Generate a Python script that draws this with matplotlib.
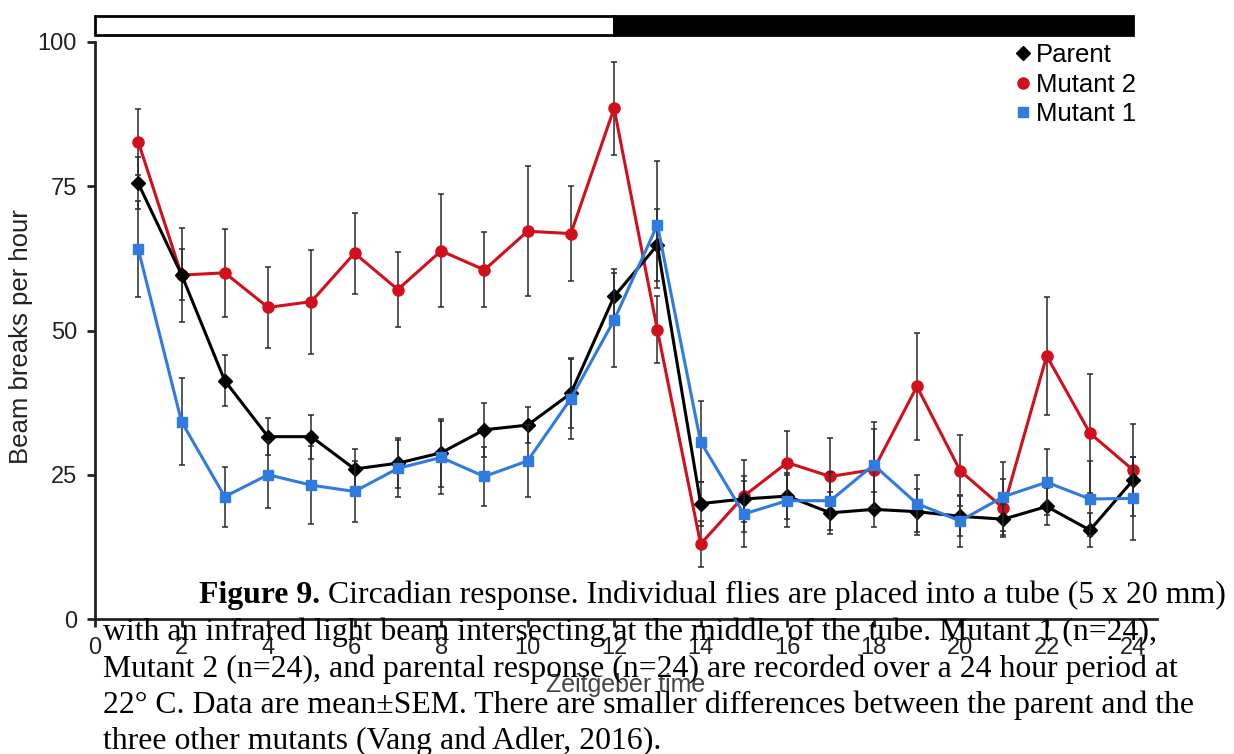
import matplotlib
matplotlib.use("Agg")
import matplotlib.pyplot as plt
from matplotlib.patches import Rectangle
from matplotlib.lines import Line2D

hours = list(range(1, 25))

parent = [75.5, 59.7, 41.3, 31.6, 31.6, 26.0, 27.0, 28.8, 32.8, 33.6, 39.1, 55.9,
          64.8, 20.0, 20.8, 21.3, 18.4, 19.0, 18.6, 17.8, 17.3, 19.5, 15.4, 24.1]
parent_sem = [4.5, 4.5, 4.4, 3.2, 3.8, 3.4, 4.3, 5.9, 4.7, 3.1, 6.0, 4.7,
              6.2, 3.8, 4.0, 4.0, 3.6, 3.0, 4.0, 3.5, 2.7, 3.2, 3.0, 4.0]

mutant2 = [82.7, 59.6, 60.0, 54.0, 55.0, 63.4, 57.1, 63.8, 60.5, 67.2, 66.8, 88.5,
           50.1, 13.0, 21.3, 27.1, 24.7, 25.9, 40.3, 25.7, 19.2, 45.6, 32.2, 25.8]
mutant2_sem = [5.7, 8.2, 7.6, 7.0, 9.0, 7.0, 6.5, 9.8, 6.5, 11.3, 8.2, 8.0,
               5.8, 4.0, 6.2, 5.5, 6.6, 7.0, 9.3, 6.2, 5.0, 10.2, 10.3, 8.0]

mutant1 = [64.1, 34.2, 21.2, 25.0, 23.2, 22.1, 26.1, 28.0, 24.7, 27.4, 38.2, 51.8,
           68.3, 30.7, 18.2, 20.5, 20.5, 26.7, 20.0, 17.0, 21.2, 23.7, 20.8, 20.9]
mutant1_sem = [8.3, 7.5, 5.2, 5.8, 6.7, 5.3, 5.0, 6.3, 5.1, 6.3, 7.0, 8.2,
               11.0, 7.0, 5.7, 4.5, 5.0, 7.5, 5.0, 4.5, 6.0, 5.7, 6.5, 7.2]

x_ticks = list(range(0, 25, 2))
y_ticks = [0, 25, 50, 75, 100]
legend_labels = ["Parent", "Mutant 2", "Mutant 1"]

caption_bold = "Figure 9."
caption_lines = [
    " Circadian response. Individual flies are placed into a tube (5 x 20 mm)",
    "with an infrared light beam intersecting at the middle of the tube. Mutant 1 (n=24),",
    "Mutant 2 (n=24), and parental response (n=24) are recorded over a 24 hour period at",
    "22\u00b0 C. Data are mean\u00b1SEM. There are smaller differences between the parent and the",
    "three other mutants (Vang and Adler, 2016).",
]

RED = "#d0101c"
BLUE = "#2f7be0"
BLACK = "#000000"
ERR = "#2a2a2a"

plt.rcParams['font.family'] = ['Liberation Sans', 'DejaVu Sans']

W, H = 1234, 754
fig = plt.figure(figsize=(W / 100, H / 100), dpi=100)
ax_left, ax_right, ax_top, ax_bottom = 95, 1157, 42, 619
ax = fig.add_axes([ax_left / W, 1 - ax_bottom / H, (ax_right - ax_left) / W, (ax_bottom - ax_top) / H])
ax.set_xlim(0, 24.55)
ax.set_ylim(0, 100)

def series(y, sem, color, marker, ms, z):
    ax.errorbar(hours, y, yerr=sem, fmt='none', ecolor=ERR, elinewidth=1.1,
                capsize=2.5, capthick=1.1, zorder=z - 0.5)
    ax.plot(hours, y, color=color, lw=2.2, marker=marker, ms=ms,
            markerfacecolor=color, markeredgecolor=color, zorder=z)

series(mutant2, mutant2_sem, RED, 'o', 8, 3)
series(parent, parent_sem, BLACK, 'D', 7, 4)
series(mutant1, mutant1_sem, BLUE, 's', 7, 5)

for s in ['top', 'right']:
    ax.spines[s].set_visible(False)
for s in ['left', 'bottom']:
    ax.spines[s].set_linewidth(2.0)
    ax.spines[s].set_color('#222222')
ax.set_xticks(x_ticks)
ax.set_yticks(y_ticks)
ax.tick_params(axis='both', direction='out', length=6, width=2.0, color='#222222',
               labelsize=17, labelcolor='#222222', pad=7)
ax.set_xlabel("Zeitgeber time", fontsize=18, color='#444444')
ax.xaxis.set_label_coords(0.5, (ax_bottom - 673) / (ax_bottom - ax_top))
ax.set_ylabel("Beam breaks per hour", fontsize=18.5, color='#222222')
ax.yaxis.set_label_coords((33 - ax_left) / (ax_right - ax_left), 0.49)

# light/dark bar
ax.add_patch(Rectangle((0, 101.2), 12, 3.3, facecolor='white', edgecolor='black',
                       lw=2.0, clip_on=False, zorder=6))
ax.add_patch(Rectangle((12, 101.2), 12, 3.3, facecolor='black', edgecolor='black',
                       lw=2.0, clip_on=False, zorder=6))

handles = [
    Line2D([], [], color=BLACK, marker='D', ls='none', ms=7),
    Line2D([], [], color=RED, marker='o', ls='none', ms=8),
    Line2D([], [], color=BLUE, marker='s', ls='none', ms=7.5),
]
leg = ax.legend(handles, legend_labels, loc='upper right', bbox_to_anchor=(1136 / W, 1 - 43 / H),
                bbox_transform=fig.transFigure, frameon=False, fontsize=18.5,
                handlelength=0.5, handletextpad=0.25, labelspacing=0.22, borderpad=0,
                borderaxespad=0)

# caption
serif = ['Liberation Serif', 'DejaVu Serif']
cap_size = 22.9
baselines = [603, 640, 677, 713, 749]
t = fig.text(199 / W, 1 - baselines[0] / H, caption_bold, fontsize=cap_size, family=serif,
             fontweight='bold', va='baseline', ha='left')
fig.canvas.draw()
bb = t.get_window_extent()
fig.text(bb.x1 / W, 1 - baselines[0] / H, caption_lines[0], fontsize=cap_size, family=serif,
         va='baseline', ha='left')
for line, b in zip(caption_lines[1:], baselines[1:]):
    fig.text(103 / W, 1 - b / H, line, fontsize=cap_size, family=serif, va='baseline', ha='left')

fig.savefig("out.png", dpi=100)
